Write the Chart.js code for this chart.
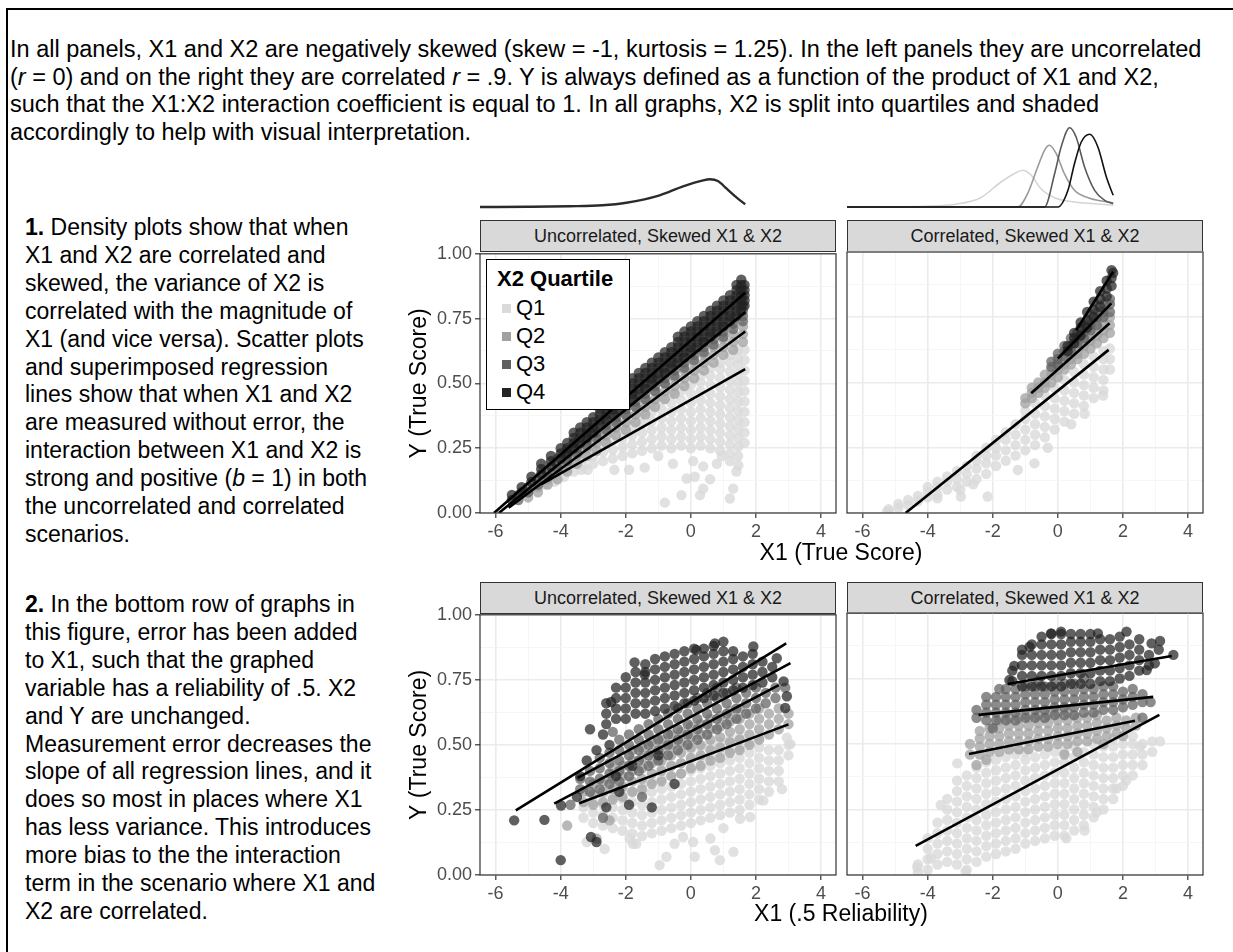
<!DOCTYPE html>
<html lang="en">
<head>
<meta charset="UTF-8">
<title>Skewed X1 &amp; X2 – measurement error and interaction</title>
<script src="https://cdn.jsdelivr.net/npm/chart.js"></script>
<style>
  body { margin: 0; background: #fff; font-family: 'Liberation Sans', Arial, Helvetica, sans-serif; color: #000; }
  #page { position: relative; width: 1233px; height: 952px; overflow: hidden; }
  .frame { position: absolute; left: 6px; top: 8px; width: 1240px; height: 960px; border-top: 2px solid #000; border-left: 2px solid #000; }
  .txt { position: absolute; white-space: nowrap; }
  #intro { left: 10px; top: 36px; font-size: 23.5px; line-height: 27.5px; }
  .side { left: 25px; font-size: 23px; line-height: 27.9px; }
  .strip { position: absolute; height: 32px; box-sizing: border-box; background: #d9d9d9; border: 1px solid #333;
           font-size: 18px; color: #1a1a1a; text-align: center; line-height: 30px; }
  .xtitle { position: absolute; width: 400px; text-align: center; font-size: 23px; line-height: 28px; }
  canvas { position: absolute; }
  #legend { position: absolute; left: 486px; top: 259px; width: 144px; height: 151px; box-sizing: border-box;
            border: 1.5px solid #000; background: #fff; }
  #legend .lt { position: absolute; left: 10px; top: 6px; font-weight: bold; font-size: 22px; line-height: 26px; }
  #legend .li { position: absolute; left: 29px; font-size: 22px; line-height: 26px; }
  #legend .sw { position: absolute; left: -14px; top: 9px; width: 9px; height: 9px; }
</style>
</head>
<body>
<div id="page">
  <div class="frame"></div>

  <div id="intro" class="txt">
    In all panels, X1 and X2 are negatively skewed (skew = -1, kurtosis = 1.25). In the left panels they are uncorrelated<br>
    (<i>r</i> = 0) and on the right they are correlated <i>r</i> = .9. Y is always defined as a function of the product of X1 and X2,<br>
    such that the X1:X2 interaction coefficient is equal to 1. In all graphs, X2 is split into quartiles and shaded<br>
    accordingly to help with visual interpretation.
  </div>

  <div class="txt side" style="top:214px">
    <b>1.</b> Density plots show that when<br>
    X1 and X2 are correlated and<br>
    skewed, the variance of X2 is<br>
    correlated with the magnitude of<br>
    X1 (and vice versa). Scatter plots<br>
    and superimposed regression<br>
    lines show that when X1 and X2<br>
    are measured without error, the<br>
    interaction between X1 and X2 is<br>
    strong and positive (<i>b</i> = 1) in both<br>
    the uncorrelated and correlated<br>
    scenarios.
  </div>

  <div class="txt side" style="top:591px">
    <b>2.</b> In the bottom row of graphs in<br>
    this figure, error has been added<br>
    to X1, such that the graphed<br>
    variable has a reliability of .5. X2<br>
    and Y are unchanged.<br>
    Measurement error decreases the<br>
    slope of all regression lines, and it<br>
    does so most in places where X1<br>
    has less variance. This introduces<br>
    more bias to the the interaction<br>
    term in the scenario where X1 and<br>
    X2 are correlated.
  </div>

  <canvas id="densUncor" width="356" height="100" style="left:480px;top:112px"></canvas>
  <canvas id="densCor" width="356" height="100" style="left:847px;top:112px"></canvas>

  <div class="strip" id="s1" style="left:480px;top:220px;width:356px"></div>
  <div class="strip" id="s2" style="left:847px;top:220px;width:356px"></div>
  <div class="strip" id="s3" style="left:480px;top:582px;width:356px"></div>
  <div class="strip" id="s4" style="left:847px;top:582px;width:356px"></div>

  <canvas id="uncorTrue" width="440" height="313" style="left:400px;top:240px"></canvas>
  <canvas id="corTrue" width="364" height="313" style="left:843px;top:240px"></canvas>
  <canvas id="uncorRel" width="440" height="314" style="left:400px;top:601px"></canvas>
  <canvas id="corRel" width="364" height="314" style="left:843px;top:601px"></canvas>

  <div class="xtitle" style="left:641px;top:538px">X1 (True Score)</div>
  <div class="xtitle" style="left:641px;top:899px">X1 (.5 Reliability)</div>

  <div id="legend"></div>
</div>

<script>
// ---- data ----
const quartiles = ['Q1', 'Q2', 'Q3', 'Q4'];
const panelTitles = ['Uncorrelated, Skewed X1 & X2', 'Correlated, Skewed X1 & X2'];
const xTickValues = [-6, -4, -2, 0, 2, 4];
const xMinor = [-5, -3, -1, 1, 3];
const yTickValues = [0, 0.25, 0.5, 0.75, 1];
const yMinor = [0.125, 0.375, 0.625, 0.875];

// density of X1 (top strip), uncorrelated case
const densUncorAll = [[-6.48,0],[-5,0.2],[-3.73,0.7],[-2.72,1.7],[-1.98,4.3],[-0.96,11.7],[-0.24,20.7],[0.38,26.7],[0.59,27.7],[0.83,26],[1.1,18.3],[1.41,9.3],[1.67,2.7]];
// density of X1 by X2 quartile, correlated case
const densCorQ1 = [[-6.48,0],[-5,0.2],[-4.12,0.7],[-3.09,3],[-2.37,9.3],[-1.75,25],[-1.34,33.3],[-1.08,36.7],[-0.82,31.7],[-0.52,18.3],[-0.1,9.3],[0.51,5],[1.13,3.3],[1.7,1.7]];
const densCorQ2 = [[-6.48,0],[-1.23,0],[-0.93,13.3],[-0.62,40],[-0.41,56.7],[-0.26,61.7],[-0.05,53.3],[0.2,33.3],[0.51,16.7],[0.93,9.3],[1.34,6],[1.7,4]];
const densCorQ3 = [[-6.48,0],[-0.41,0],[-0.1,33.3],[0.1,60],[0.36,79.3],[0.56,70],[0.82,40],[1.13,16.7],[1.44,6.7],[1.7,3.3]];
const densCorQ4 = [[-6.48,0],[0,0],[0.31,16.7],[0.51,43.3],[0.72,65],[0.98,72.7],[1.23,60],[1.49,30],[1.7,11.7]];

// scatter clouds: columns of [x, [y values]] plus loose points [x, y]
// top left: uncorrelated, true score
const uncorTrueQ1 = [[-4.5,[0.11,0.13]],[-4.2,[0.12,0.15]],[-3.9,[0.14,0.17,0.2]],[-3.6,[0.16,0.19,0.22]],[-3.3,[0.18,0.21,0.24]],[-3.0,[0.19,0.22,0.25,0.28]],[-2.7,[0.2,0.235,0.27,0.3]],[-2.4,[0.21,0.245,0.28,0.315]],[-2.1,[0.22,0.255,0.29,0.325,0.36]],[-1.8,[0.23,0.265,0.3,0.335,0.37]],[-1.5,[0.24,0.275,0.31,0.345,0.38,0.41]],[-1.2,[0.25,0.285,0.32,0.355,0.39,0.42]],[-0.9,[0.26,0.295,0.33,0.365,0.4,0.435]],[-0.6,[0.25,0.285,0.32,0.355,0.39,0.425,0.46]],[-0.3,[0.26,0.295,0.33,0.365,0.4,0.435,0.47]],[0.0,[0.25,0.285,0.32,0.355,0.39,0.425,0.46,0.495]],[0.3,[0.26,0.295,0.33,0.365,0.4,0.435,0.47,0.505,0.53]],[0.6,[0.25,0.285,0.32,0.355,0.39,0.425,0.46,0.495,0.53,0.56]],[0.9,[0.24,0.275,0.31,0.345,0.38,0.415,0.45,0.485,0.52,0.555,0.58]],[1.2,[0.23,0.265,0.3,0.335,0.37,0.405,0.44,0.475,0.51,0.545,0.58,0.61]],[1.45,[0.22,0.255,0.29,0.325,0.36,0.395,0.43,0.465,0.5,0.535,0.57,0.6,0.63]],[1.65,[0.27,0.31,0.35,0.39,0.43,0.47,0.51,0.55,0.59,0.63]]];
const uncorTrueQ1Loose = [[-3.37,0.167],[-3.17,0.167],[-2.35,0.167],[-1.9,0.167],[-1.42,0.175],[-0.8,0.04],[-0.29,0.069],[-0.13,0.133],[0.12,0.14],[0.28,0.069],[0.38,0.094],[0.59,0.13],[0.95,0.22],[1.2,0.056],[1.3,0.094],[1.46,0.184],[0.07,0.2],[0.38,0.18],[-0.55,0.19],[1.2,0.2],[1.4,0.16],[0.8,0.19],[-1.0,0.22],[-2.2,0.45],[-2.0,0.47],[-1.9,0.43]];
const uncorTrueQ2 = [[-5.0,[0.06,0.08]],[-4.7,[0.08,0.1,0.12]],[-4.4,[0.11,0.13,0.15]],[-4.1,[0.13,0.16,0.18]],[-3.8,[0.16,0.19,0.21]],[-3.5,[0.19,0.22,0.24]],[-3.2,[0.22,0.25,0.27]],[-2.9,[0.24,0.27,0.3]],[-2.6,[0.27,0.3,0.33]],[-2.3,[0.3,0.33,0.36]],[-2.0,[0.32,0.35,0.38]],[-1.7,[0.35,0.38,0.41]],[-1.4,[0.38,0.41,0.44]],[-1.1,[0.41,0.44,0.47]],[-0.8,[0.44,0.47,0.5]],[-0.5,[0.46,0.49,0.52]],[-0.2,[0.49,0.52,0.55]],[0.1,[0.52,0.55,0.58]],[0.4,[0.55,0.58,0.61]],[0.7,[0.58,0.61,0.64]],[1.0,[0.61,0.64,0.67]],[1.3,[0.63,0.66,0.69]],[1.6,[0.66,0.69,0.72]]];
const uncorTrueQ3 = [[-5.3,[0.05,0.07]],[-5.0,[0.08,0.1]],[-4.7,[0.11,0.13]],[-4.4,[0.14,0.16]],[-4.1,[0.17,0.19,0.21]],[-3.8,[0.2,0.22,0.24]],[-3.5,[0.23,0.25,0.27]],[-3.2,[0.26,0.28,0.3]],[-2.9,[0.29,0.31,0.33]],[-2.6,[0.32,0.34,0.36]],[-2.3,[0.35,0.37,0.39]],[-2.0,[0.38,0.4,0.42]],[-1.7,[0.41,0.43,0.45]],[-1.4,[0.44,0.46,0.48]],[-1.1,[0.47,0.49,0.51]],[-0.8,[0.5,0.52,0.54]],[-0.5,[0.53,0.55,0.57]],[-0.2,[0.56,0.58,0.6]],[0.1,[0.59,0.61,0.63]],[0.4,[0.62,0.64,0.66]],[0.7,[0.65,0.67,0.69]],[1.0,[0.68,0.7,0.72]],[1.3,[0.71,0.73,0.75]],[1.6,[0.74,0.76,0.78,0.8]]];
const uncorTrueQ4 = [[-5.5,[0.05,0.07]],[-5.2,[0.08,0.1]],[-4.9,[0.12,0.14]],[-4.6,[0.15,0.17,0.19]],[-4.3,[0.18,0.2,0.22]],[-4.0,[0.21,0.23,0.25]],[-3.8,[0.23,0.25,0.27]],[-3.6,[0.25,0.27,0.29,0.31]],[-3.4,[0.27,0.29,0.31,0.33]],[-3.2,[0.29,0.31,0.33,0.35]],[-3.0,[0.31,0.33,0.35,0.37]],[-2.8,[0.34,0.36,0.38,0.4]],[-2.6,[0.36,0.38,0.4,0.42]],[-2.4,[0.38,0.4,0.42,0.44]],[-2.2,[0.4,0.42,0.44,0.46,0.48]],[-2.0,[0.42,0.44,0.46,0.48,0.5]],[-1.8,[0.44,0.46,0.48,0.5,0.52]],[-1.6,[0.46,0.48,0.5,0.52,0.54]],[-1.4,[0.48,0.5,0.52,0.54,0.56]],[-1.2,[0.5,0.52,0.54,0.56,0.58]],[-1.0,[0.52,0.54,0.56,0.58,0.6]],[-0.8,[0.54,0.56,0.58,0.6,0.62]],[-0.6,[0.56,0.58,0.6,0.62,0.64]],[-0.4,[0.58,0.6,0.62,0.64,0.66,0.68]],[-0.2,[0.6,0.62,0.64,0.66,0.68,0.7]],[0.0,[0.62,0.64,0.66,0.68,0.7,0.72]],[0.2,[0.64,0.66,0.68,0.7,0.72,0.74]],[0.4,[0.66,0.68,0.7,0.72,0.74,0.76]],[0.6,[0.68,0.7,0.72,0.74,0.76,0.78]],[0.8,[0.7,0.72,0.74,0.76,0.78,0.8]],[1.0,[0.72,0.74,0.76,0.78,0.8,0.82]],[1.2,[0.74,0.76,0.78,0.8,0.82,0.84]],[1.4,[0.76,0.78,0.8,0.82,0.84,0.86,0.88]],[1.55,[0.78,0.8,0.82,0.84,0.86,0.88,0.9]],[1.65,[0.8,0.82,0.84,0.86,0.88]]];
const uncorTrueFit = [[[-4.6,0.11],[1.67,0.555]], [[-5.6,0.02],[1.67,0.70]], [[-5.9,0.0],[1.67,0.775]], [[-6.05,0.0],[1.67,0.85]]];

// top right: correlated, true score
const corTrueQ1 = [[-5.2,[0.005,0.015]],[-4.9,[0.02,0.035]],[-4.6,[0.03,0.05]],[-4.3,[0.045,0.065]],[-4.0,[0.06,0.08,0.1]],[-3.7,[0.07,0.1,0.12]],[-3.4,[0.09,0.12,0.14]],[-3.1,[0.1,0.13,0.16]],[-2.8,[0.12,0.15,0.18]],[-2.5,[0.13,0.17,0.2,0.22]],[-2.2,[0.15,0.19,0.22,0.25]],[-1.9,[0.18,0.22,0.25,0.28]],[-1.6,[0.2,0.24,0.28,0.31]],[-1.3,[0.22,0.26,0.3,0.34]],[-1.0,[0.24,0.28,0.32,0.36,0.39]],[-0.7,[0.26,0.3,0.34,0.38,0.42]],[-0.4,[0.29,0.33,0.37,0.41,0.45]],[-0.1,[0.32,0.36,0.4,0.44,0.48]],[0.2,[0.35,0.39,0.43,0.47,0.51]],[0.5,[0.38,0.42,0.46,0.5,0.54]],[0.8,[0.41,0.45,0.49,0.53,0.57]],[1.1,[0.44,0.48,0.52,0.56,0.6]],[1.4,[0.47,0.51,0.55,0.59,0.62]],[1.6,[0.55,0.59,0.63]]];
const corTrueQ1Loose = [[-5.25,0.005],[-3.7,0.056],[-2.98,0.063],[-2.16,0.063],[-1.23,0.165],[-0.72,0.19],[-0.31,0.25],[0.41,0.34],[0.82,0.38],[1.39,0.45],[-3.0,0.09],[-2.6,0.11]];
const corTrueQ2 = [[-1.0,[0.42,0.44]],[-0.8,[0.44,0.46,0.48]],[-0.6,[0.46,0.48,0.5]],[-0.4,[0.48,0.5,0.53]],[-0.2,[0.5,0.53,0.55]],[0.0,[0.52,0.55,0.57]],[0.2,[0.55,0.57,0.6]],[0.4,[0.57,0.59,0.62]],[0.6,[0.59,0.61,0.64]],[0.8,[0.61,0.64,0.66]],[1.0,[0.63,0.66,0.68]],[1.2,[0.65,0.68,0.71]],[1.4,[0.67,0.7,0.73]],[1.6,[0.69,0.72,0.75]]];
const corTrueQ3 = [[-0.2,[0.56,0.58]],[0.0,[0.57,0.59,0.61]],[0.2,[0.6,0.62,0.64]],[0.4,[0.62,0.64,0.67]],[0.6,[0.65,0.67,0.69]],[0.8,[0.67,0.69,0.72]],[1.0,[0.7,0.72,0.74]],[1.2,[0.72,0.75,0.77]],[1.4,[0.75,0.77,0.8]],[1.6,[0.77,0.8,0.82]]];
const corTrueQ4 = [[0.3,[0.62,0.64]],[0.5,[0.65,0.67,0.69]],[0.7,[0.68,0.71,0.73]],[0.9,[0.71,0.74,0.77]],[1.1,[0.75,0.78,0.81]],[1.3,[0.79,0.82,0.85]],[1.5,[0.83,0.86,0.89]],[1.65,[0.87,0.9,0.93]],[1.7,[0.92]]];
const corTrueFit = [[[-4.68,0.0],[1.56,0.625]], [[-0.82,0.459],[1.59,0.727]], [[0.0,0.592],[1.645,0.803]], [[0.565,0.70],[1.70,0.925]]];

// bottom left: uncorrelated, X1 with .5 reliability
const uncorRelQ1 = [[-3.3,[0.22,0.26]],[-3.0,[0.2,0.24,0.28]],[-2.7,[0.19,0.23,0.27,0.31]],[-2.4,[0.18,0.22,0.26,0.3]],[-2.1,[0.17,0.21,0.25,0.29,0.33]],[-1.8,[0.16,0.2,0.24,0.28,0.32]],[-1.5,[0.15,0.19,0.23,0.27,0.31,0.35]],[-1.2,[0.16,0.2,0.24,0.28,0.32,0.36]],[-0.9,[0.17,0.21,0.25,0.29,0.33,0.37,0.41]],[-0.6,[0.18,0.22,0.26,0.3,0.34,0.38,0.42]],[-0.3,[0.19,0.23,0.27,0.31,0.35,0.39,0.43]],[0.0,[0.2,0.24,0.28,0.32,0.36,0.4,0.44,0.48]],[0.3,[0.21,0.25,0.29,0.33,0.37,0.41,0.45,0.49]],[0.6,[0.22,0.26,0.3,0.34,0.38,0.42,0.46,0.5]],[0.9,[0.23,0.27,0.31,0.35,0.39,0.43,0.47,0.51]],[1.2,[0.24,0.28,0.32,0.36,0.4,0.44,0.48,0.52]],[1.5,[0.25,0.29,0.33,0.37,0.41,0.45,0.49,0.53]],[1.8,[0.27,0.31,0.35,0.39,0.43,0.47,0.51]],[2.1,[0.29,0.33,0.37,0.41,0.45,0.49,0.53]],[2.4,[0.32,0.36,0.4,0.44,0.48]],[2.7,[0.36,0.4,0.44,0.48]],[3.0,[0.46,0.5]]];
const uncorRelQ1Loose = [[3.06,0.503],[2.95,0.528],[2.8,0.33],[1.82,0.223],[1.51,0.216],[1.31,0.089],[0.74,0.095],[0.89,0.057],[-0.75,0.07],[-0.96,0.038],[0.12,0.07],[-0.24,0.146],[0.07,0.127],[-1.78,0.12],[-1.68,0.12],[-1.88,0.14],[-2.65,0.1],[-3.2,0.127],[2.23,0.286],[0.6,0.14],[1.0,0.18],[-0.5,0.12]];
const uncorRelQ2 = [[-3.3,[0.28,0.32]],[-3.0,[0.27,0.31,0.35]],[-2.7,[0.28,0.32,0.36]],[-2.4,[0.29,0.33,0.37,0.41]],[-2.1,[0.3,0.34,0.38,0.42]],[-1.8,[0.32,0.36,0.4,0.44,0.48]],[-1.5,[0.33,0.37,0.41,0.45,0.49]],[-1.2,[0.35,0.39,0.43,0.47,0.51]],[-0.9,[0.36,0.4,0.44,0.48,0.52]],[-0.6,[0.38,0.42,0.46,0.5,0.54]],[-0.3,[0.39,0.43,0.47,0.51,0.55]],[0.0,[0.41,0.45,0.49,0.53,0.57]],[0.3,[0.42,0.46,0.5,0.54,0.58]],[0.6,[0.44,0.48,0.52,0.56,0.6]],[0.9,[0.45,0.49,0.53,0.57,0.61]],[1.2,[0.47,0.51,0.55,0.59,0.63]],[1.5,[0.48,0.52,0.56,0.6,0.64]],[1.8,[0.5,0.54,0.58,0.62]],[2.1,[0.52,0.56,0.6,0.64]],[2.4,[0.54,0.58,0.62]],[2.7,[0.56,0.6,0.64]],[3.0,[0.58,0.62]]];
const uncorRelQ2Loose = [[-3.8,0.19],[-2.9,0.14],[-2.5,0.21]];
const uncorRelQ3 = [[-3.4,[0.33,0.37]],[-3.1,[0.32,0.36,0.4]],[-2.8,[0.33,0.37,0.41,0.45]],[-2.5,[0.35,0.39,0.43,0.47]],[-2.2,[0.36,0.4,0.44,0.48,0.52]],[-1.9,[0.38,0.42,0.46,0.5,0.54]],[-1.6,[0.4,0.44,0.48,0.52,0.56]],[-1.3,[0.42,0.46,0.5,0.54,0.58]],[-1.0,[0.44,0.48,0.52,0.56,0.6]],[-0.7,[0.46,0.5,0.54,0.58,0.62]],[-0.4,[0.48,0.52,0.56,0.6,0.64]],[-0.1,[0.5,0.54,0.58,0.62,0.66]],[0.2,[0.52,0.56,0.6,0.64,0.68]],[0.5,[0.54,0.58,0.62,0.66,0.7]],[0.8,[0.56,0.6,0.64,0.68,0.72]],[1.1,[0.58,0.62,0.66,0.7]],[1.4,[0.6,0.64,0.68,0.72]],[1.7,[0.62,0.66,0.7]],[2.0,[0.64,0.68,0.72]],[2.3,[0.66,0.7]],[2.6,[0.68,0.72]]];
const uncorRelQ3Loose = [[-2.7,0.22],[-1.5,0.3],[-3.7,0.27],[-2.4,0.55],[2.9,0.72]];
const uncorRelQ4 = [[-2.6,[0.58,0.62,0.66]],[-2.3,[0.6,0.64,0.68,0.72]],[-2.0,[0.6,0.64,0.68,0.72,0.76]],[-1.7,[0.62,0.66,0.7,0.74,0.78]],[-1.4,[0.62,0.66,0.7,0.74,0.78,0.81]],[-1.1,[0.63,0.67,0.71,0.75,0.79,0.83]],[-0.8,[0.64,0.68,0.72,0.76,0.8,0.84]],[-0.5,[0.65,0.69,0.73,0.77,0.81,0.85]],[-0.2,[0.66,0.7,0.74,0.78,0.82,0.86]],[0.1,[0.67,0.71,0.75,0.79,0.83,0.87]],[0.4,[0.68,0.72,0.76,0.8,0.84,0.87]],[0.7,[0.69,0.73,0.77,0.81,0.85,0.88]],[1.0,[0.7,0.74,0.78,0.82,0.86]],[1.3,[0.71,0.75,0.79,0.83,0.86]],[1.6,[0.72,0.76,0.8,0.84]],[1.9,[0.73,0.77,0.81,0.85]],[2.2,[0.74,0.78,0.82]],[2.5,[0.76,0.8]]];
const uncorRelQ4Loose = [[0.74,0.89],[1.0,0.897],[0.17,0.865],[1.92,0.878],[-1.73,0.817],[-1.42,0.77],[2.64,0.833],[2.85,0.744],[2.95,0.687],[2.9,0.642],[-5.43,0.21],[-4.5,0.212],[-4.0,0.057],[-3.99,0.267],[-3.1,0.56],[-2.7,0.54],[-2.45,0.665],[-3.07,0.146],[-2.9,0.127],[-3.2,0.44],[-2.9,0.48],[-3.4,0.38],[-2.5,0.5],[-3.5,0.3],[-2.2,0.32],[-1.9,0.27],[-2.6,0.26],[-1.2,0.26],[-0.5,0.35],[-1.8,0.42],[-1.0,0.46],[-2.3,0.38]];
const uncorRelFit = [[[-3.43,0.276],[3.0,0.579]], [[-4.2,0.274],[2.7,0.73]], [[-3.48,0.373],[3.06,0.814]], [[-5.38,0.248],[2.93,0.89]]];

// bottom right: correlated, X1 with .5 reliability
const corRelQ1 = [[-4.3,[0.01,0.04]],[-4.0,[0.02,0.06,0.1,0.14]],[-3.7,[0.04,0.08,0.12,0.16,0.2]],[-3.4,[0.05,0.09,0.13,0.17,0.21,0.25,0.29]],[-3.1,[0.04,0.08,0.12,0.16,0.2,0.24,0.28,0.32,0.36]],[-2.8,[0.02,0.06,0.1,0.14,0.18,0.22,0.26,0.3,0.34,0.38]],[-2.5,[0.05,0.09,0.13,0.17,0.21,0.25,0.29,0.33,0.37,0.41]],[-2.2,[0.07,0.11,0.15,0.19,0.23,0.27,0.31,0.35,0.39,0.43]],[-1.9,[0.08,0.12,0.16,0.2,0.24,0.28,0.32,0.36,0.4,0.44]],[-1.6,[0.09,0.13,0.17,0.21,0.25,0.29,0.33,0.37,0.41,0.45]],[-1.3,[0.1,0.14,0.18,0.22,0.26,0.3,0.34,0.38,0.42,0.46]],[-1.0,[0.12,0.16,0.2,0.24,0.28,0.32,0.36,0.4,0.44,0.47]],[-0.7,[0.13,0.17,0.21,0.25,0.29,0.33,0.37,0.41,0.45]],[-0.4,[0.14,0.18,0.22,0.26,0.3,0.34,0.38,0.42,0.46]],[-0.1,[0.15,0.19,0.23,0.27,0.31,0.35,0.39,0.43,0.47]],[0.2,[0.15,0.19,0.23,0.27,0.31,0.35,0.39,0.43,0.47]],[0.5,[0.17,0.21,0.25,0.29,0.33,0.37,0.41,0.45,0.49]],[0.8,[0.19,0.23,0.27,0.31,0.35,0.39,0.43,0.47]],[1.1,[0.22,0.26,0.3,0.34,0.38,0.42,0.46,0.5]],[1.4,[0.25,0.29,0.33,0.37,0.41,0.45,0.49]],[1.7,[0.29,0.33,0.37,0.41,0.45,0.49,0.52]],[2.0,[0.34,0.38,0.42,0.46,0.5]],[2.3,[0.38,0.42,0.46,0.5,0.53]],[2.6,[0.42,0.46,0.5]],[2.9,[0.47,0.51]]];
const corRelQ1Loose = [[-4.32,0.03],[-3.9,0.064],[-2.83,0.013],[3.14,0.51],[2.52,0.49],[1.8,0.33],[0.26,0.14],[0.82,0.17],[-3.09,0.426],[-3.6,0.267],[2.1,0.36],[1.2,0.24]];
const corRelQ2 = [[-2.7,[0.46,0.5]],[-2.4,[0.46,0.49,0.52,0.55]],[-2.1,[0.47,0.5,0.53,0.56]],[-1.8,[0.47,0.5,0.53,0.56,0.59]],[-1.5,[0.48,0.51,0.54,0.57,0.6]],[-1.2,[0.48,0.51,0.54,0.57,0.6]],[-0.9,[0.48,0.51,0.54,0.57,0.6]],[-0.6,[0.49,0.52,0.55,0.58,0.61]],[-0.3,[0.49,0.52,0.55,0.58,0.61]],[0.0,[0.5,0.53,0.56,0.59,0.62]],[0.3,[0.5,0.53,0.56,0.59,0.62]],[0.6,[0.51,0.54,0.57,0.6]],[0.9,[0.51,0.54,0.57,0.6]],[1.2,[0.52,0.55,0.58,0.61]],[1.5,[0.53,0.56,0.59]],[1.8,[0.54,0.57,0.6]],[2.1,[0.56,0.59]],[2.4,[0.57,0.6]]];
const corRelQ2Loose = [[0.2,0.46],[0.6,0.47],[1.4,0.5],[-2.2,0.44],[2.0,0.53],[-2.5,0.42]];
const corRelQ3 = [[-2.5,[0.6,0.63]],[-2.2,[0.59,0.62,0.65,0.68]],[-1.9,[0.59,0.62,0.65,0.68]],[-1.6,[0.59,0.62,0.65,0.68,0.71]],[-1.3,[0.59,0.62,0.65,0.68,0.71]],[-1.0,[0.6,0.63,0.66,0.69,0.72]],[-0.7,[0.6,0.63,0.66,0.69,0.72]],[-0.4,[0.6,0.63,0.66,0.69,0.72]],[-0.1,[0.61,0.64,0.67,0.7,0.73]],[0.2,[0.61,0.64,0.67,0.7,0.73]],[0.5,[0.61,0.64,0.67,0.7,0.73]],[0.8,[0.62,0.65,0.68,0.71]],[1.1,[0.62,0.65,0.68,0.71]],[1.4,[0.63,0.66,0.69,0.72]],[1.7,[0.63,0.66,0.69,0.72]],[2.0,[0.64,0.67,0.7]],[2.3,[0.65,0.68,0.71]],[2.6,[0.66,0.69]]];
const corRelQ3Loose = [[2.6,0.6],[-1.8,0.71],[-2.0,0.56],[-0.6,0.74],[0.8,0.75],[2.85,0.66]];
const corRelQ4 = [[-1.4,[0.74,0.78]],[-1.1,[0.72,0.76,0.8,0.84]],[-0.8,[0.72,0.76,0.8,0.84,0.88]],[-0.5,[0.72,0.76,0.8,0.84,0.88,0.91]],[-0.2,[0.72,0.76,0.8,0.84,0.88,0.92]],[0.1,[0.72,0.76,0.8,0.84,0.88,0.92]],[0.4,[0.73,0.77,0.81,0.85,0.89,0.92]],[0.7,[0.73,0.77,0.81,0.85,0.89,0.92]],[1.0,[0.73,0.77,0.81,0.85,0.89,0.92]],[1.3,[0.74,0.78,0.82,0.86,0.9]],[1.6,[0.74,0.78,0.82,0.86,0.9]],[1.9,[0.75,0.79,0.83,0.87,0.91]],[2.2,[0.76,0.8,0.84,0.88]],[2.5,[0.78,0.82,0.86]],[2.8,[0.8,0.84]],[3.1,[0.86]]];
const corRelQ4Loose = [[-0.21,0.922],[0.1,0.929],[1.23,0.922],[2.11,0.929],[2.88,0.884],[3.14,0.893],[3.55,0.84],[2.98,0.808],[2.73,0.782],[-0.87,0.871],[-1.34,0.798],[-1.49,0.744],[-1.1,0.86],[2.5,0.9]];
const corRelFit = [[[-4.37,0.111],[3.12,0.611]], [[-2.73,0.462],[2.37,0.589]], [[-2.44,0.611],[2.93,0.68]], [[-1.54,0.729],[3.5,0.836]]];

// ---- styling ----
Chart.defaults.font.family = "'Liberation Sans', Arial, Helvetica, sans-serif";
Chart.defaults.animation = false;

const greys = ['#dadada', '#a0a0a0', '#606060', '#232323'];
const pointFill = ['rgba(218,218,218,0.8)', 'rgba(160,160,160,0.75)', 'rgba(96,96,96,0.72)', 'rgba(35,35,35,0.72)'];
const densColors = ['#d5d5d5', '#9a9a9a', '#5a5a5a', '#111111'];
const X_MIN = -6.48, X_MAX = 4.46;

// columns -> points
function cloud(cols, loose) {
  const pts = [];
  cols.forEach(([x, ys]) => ys.forEach(y => pts.push([x, y])));
  return pts.concat(loose || []);
}

// strips and legend
['s1', 's2', 's3', 's4'].forEach((id, i) => {
  document.getElementById(id).textContent = panelTitles[i % 2];
});
const legend = document.getElementById('legend');
legend.innerHTML = '<div class="lt">X2 Quartile</div>' + quartiles.map((q, i) =>
  `<div class="li" style="top:${35 + i * 28}px"><span class="sw" style="background:${greys[i]}"></span>${q}</div>`).join('');

// ggplot style panel frame
const panelBorder = {
  id: 'panelBorder',
  afterDraw(chart) {
    const { ctx, chartArea: a } = chart;
    ctx.save();
    ctx.strokeStyle = '#333';
    ctx.lineWidth = 1.2;
    ctx.strokeRect(a.left, a.top, a.right - a.left, a.bottom - a.top);
    ctx.restore();
  }
};

function gridOpts(majors, ticks) {
  const isMajor = c => c.tick && majors.some(m => Math.abs(m - c.tick.value) < 1e-9);
  return {
    color: c => isMajor(c) ? '#ebebeb' : '#f4f4f4',
    lineWidth: c => isMajor(c) ? 1.6 : 0.8,
    tickColor: c => isMajor(c) ? '#333' : 'rgba(0,0,0,0)',
    tickLength: 5,
    tickWidth: 1.2,
    drawTicks: ticks
  };
}

function panel(id, groups, fits, showY, yTitle) {
  const datasets = groups.map((pts, i) => ({
    label: quartiles[i],
    data: pts.map(p => ({ x: p[0], y: p[1] })),
    backgroundColor: pointFill[i],
    borderWidth: 0,
    pointRadius: 5.2,
    order: 5 - i
  }));
  fits.forEach((seg, i) => datasets.push({
    label: quartiles[i] + ' fit',
    data: seg.map(p => ({ x: p[0], y: p[1] })),
    showLine: true,
    borderColor: '#000',
    borderWidth: 2.6,
    pointRadius: 0,
    order: 0
  }));

  const xAll = xTickValues.concat(xMinor).sort((a, b) => a - b);
  const yAll = yTickValues.concat(yMinor).sort((a, b) => a - b);

  return new Chart(document.getElementById(id), {
    type: 'scatter',
    data: { datasets },
    options: {
      responsive: false,
      layout: { autoPadding: false, padding: { top: 12, right: 4, left: showY ? 0 : 4, bottom: 0 } },
      plugins: { legend: { display: false }, tooltip: { enabled: false } },
      scales: {
        x: {
          type: 'linear', min: X_MIN, max: X_MAX,
          afterBuildTicks: s => { s.ticks = xAll.map(v => ({ value: v })); },
          afterFit: s => { s.height = 40; },
          border: { display: false },
          grid: gridOpts(xTickValues, true),
          ticks: {
            autoSkip: false, maxRotation: 0, padding: 3, color: '#4d4d4d', font: { size: 18 },
            callback: v => xTickValues.includes(v) ? String(v) : ''
          }
        },
        y: {
          type: 'linear', min: 0, max: 1,
          afterBuildTicks: s => { s.ticks = yAll.map(v => ({ value: v })); },
          afterFit: s => { s.width = showY ? 80 : 0; },
          border: { display: false },
          grid: gridOpts(yTickValues, showY),
          ticks: {
            display: showY, autoSkip: false, padding: 3, color: '#4d4d4d', font: { size: 18 },
            callback: v => yTickValues.includes(v) ? v.toFixed(2) : ''
          },
          title: {
            display: showY, text: yTitle, color: '#000',
            font: { size: 23 }, padding: { top: 6, bottom: 0 }
          }
        }
      }
    },
    plugins: [panelBorder]
  });
}

function density(id, curves) {
  const datasets = curves.map((c, i) => ({
    data: c.pts.map(p => ({ x: p[0], y: p[1] })),
    borderColor: c.color,
    borderWidth: c.width,
    pointRadius: 0,
    cubicInterpolationMode: 'monotone',
    clip: false,
    order: curves.length - i
  }));
  return new Chart(document.getElementById(id), {
    type: 'line',
    data: { datasets },
    options: {
      responsive: false,
      layout: { padding: { top: 0, right: 0, left: 0, bottom: 5 } },
      plugins: { legend: { display: false }, tooltip: { enabled: false } },
      scales: {
        x: { type: 'linear', min: X_MIN, max: X_MAX, display: false },
        y: { min: 0, max: 95, display: false }
      }
    }
  });
}

density('densUncor', [{ pts: densUncorAll, color: '#2b2b2b', width: 2.4 }]);
density('densCor', [
  { pts: densCorQ1, color: densColors[0], width: 1.6 },
  { pts: densCorQ2, color: densColors[1], width: 1.6 },
  { pts: densCorQ3, color: densColors[2], width: 1.6 },
  { pts: densCorQ4, color: densColors[3], width: 1.6 }
]);

panel('uncorTrue', [cloud(uncorTrueQ1, uncorTrueQ1Loose), cloud(uncorTrueQ2), cloud(uncorTrueQ3), cloud(uncorTrueQ4)], uncorTrueFit, true, 'Y (True Score)');
panel('corTrue', [cloud(corTrueQ1, corTrueQ1Loose), cloud(corTrueQ2), cloud(corTrueQ3), cloud(corTrueQ4)], corTrueFit, false, '');
panel('uncorRel', [cloud(uncorRelQ1, uncorRelQ1Loose), cloud(uncorRelQ2, uncorRelQ2Loose), cloud(uncorRelQ3, uncorRelQ3Loose), cloud(uncorRelQ4, uncorRelQ4Loose)], uncorRelFit, true, 'Y (True Score)');
panel('corRel', [cloud(corRelQ1, corRelQ1Loose), cloud(corRelQ2, corRelQ2Loose), cloud(corRelQ3, corRelQ3Loose), cloud(corRelQ4, corRelQ4Loose)], corRelFit, false, '');
</script>
</body>
</html>
